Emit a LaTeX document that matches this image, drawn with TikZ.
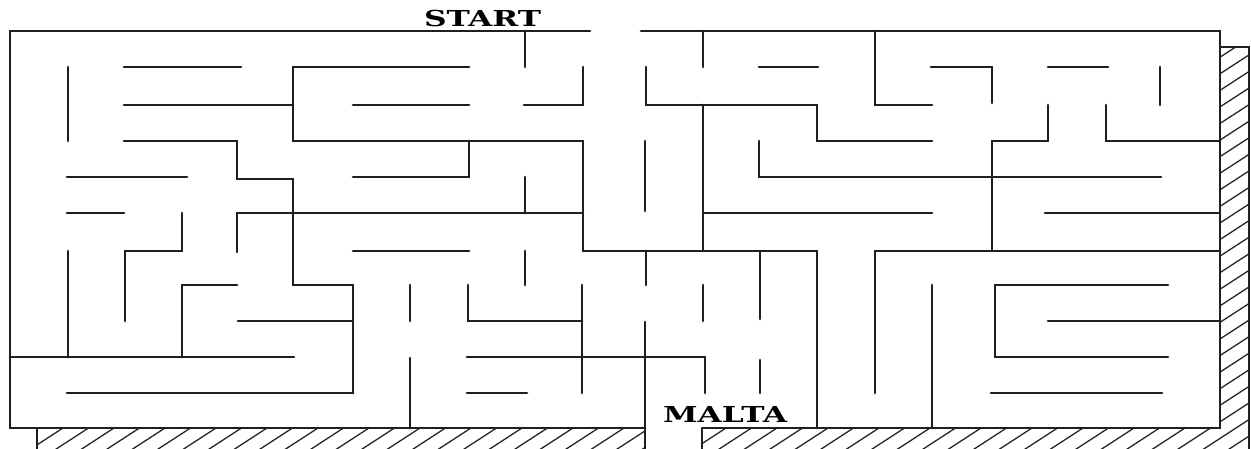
\documentclass[tikz,border=0pt]{standalone}
\usepackage{fontspec}
\usepackage{graphicx}
\newfontfamily\mazefont{DejaVu Serif}
\tikzset{
  wall/.style={line width=1.45pt, line cap=round, line join=miter, black!88},
  hatchline/.style={line width=0.65pt, black!85},
  frameline/.style={line width=1.2pt, black!88},
  mazelabel/.style={font=\mazefont\bfseries\fontsize{11pt}{11pt}\selectfont, inner sep=0pt}
}
\begin{document}
\begin{tikzpicture}[x=0.5pt,y=-0.5pt]
\useasboundingbox (0,0) rectangle (1251,449);
% hatching
\begin{scope}
\clip (37,428) rectangle (645,449) (702,428) rectangle (1249,449) (1220,47) rectangle (1249,449);
\foreach \k in {-4,...,52} {
  \pgfmathsetmacro{\xo}{63+25.5*\k}
  \draw[hatchline] (\xo-40,454) -- (\xo+700,-27);
}
\end{scope}
\draw[frameline] (37,428) -- (37,449);
\draw[frameline] (1220,47) -- (1249,47) -- (1249,449);
\draw[frameline] (702,428) -- (702,449);
% outer border
\draw[wall] (590,31) -- (10,31) -- (10,428) -- (645,428);
\draw[wall] (641,31) -- (1220,31) -- (1220,428) -- (702,428);
% interior walls
\draw[wall] (124,67) -- (241,67);
\draw[wall] (469,67) -- (293,67) -- (293,141);
\draw[wall] (525,31) -- (525,67);
\draw[wall] (583,67) -- (583,105) -- (524,105);
\draw[wall] (703,31) -- (703,67);
\draw[wall] (759,67) -- (818,67);
\draw[wall] (875,31) -- (875,105) -- (932,105);
\draw[wall] (931,67) -- (992,67) -- (992,103);
\draw[wall] (1048,67) -- (1108,67);
\draw[wall] (1160,67) -- (1160,105);
\draw[wall] (68,67) -- (68,141);
\draw[wall] (124,105) -- (293,105);
\draw[wall] (353,105) -- (469,105);
\draw[wall] (646,67) -- (646,105) -- (817,105) -- (817,141) -- (932,141);
\draw[wall] (703,105) -- (703,251);
\draw[wall] (1048,105) -- (1048,141) -- (992,141) -- (992,251);
\draw[wall] (1106,105) -- (1106,141) -- (1220,141);
\draw[wall] (293,141) -- (583,141) -- (583,251);
\draw[wall] (469,141) -- (469,177) -- (353,177);
\draw[wall] (124,141) -- (237,141) -- (237,179) -- (293,179) -- (293,285) -- (353,285) -- (353,393);
\draw[wall] (67,177) -- (187,177);
\draw[wall] (645,141) -- (645,211);
\draw[wall] (759,141) -- (759,177) -- (1161,177);
\draw[wall] (525,177) -- (525,213);
\draw[wall] (67,213) -- (124,213);
\draw[wall] (182,213) -- (182,251) -- (125,251) -- (125,321);
\draw[wall] (237,252) -- (237,213) -- (583,213);
\draw[wall] (703,213) -- (932,213);
\draw[wall] (1045,213) -- (1220,213);
\draw[wall] (583,251) -- (817,251) -- (817,428);
\draw[wall] (353,251) -- (469,251);
\draw[wall] (525,251) -- (525,285);
\draw[wall] (646,251) -- (646,285);
\draw[wall] (760,251) -- (760,319);
\draw[wall] (1220,251) -- (875,251) -- (875,393);
\draw[wall] (68,251) -- (68,357);
\draw[wall] (237,285) -- (182,285) -- (182,357);
\draw[wall] (410,285) -- (410,321);
\draw[wall] (468,285) -- (468,321) -- (582,321);
\draw[wall] (582,285) -- (582,393);
\draw[wall] (703,285) -- (703,321);
\draw[wall] (932,285) -- (932,428);
\draw[wall] (1168,285) -- (995,285) -- (995,357) -- (1168,357);
\draw[wall] (238,321) -- (353,321);
\draw[wall] (1048,321) -- (1220,321);
\draw[wall] (10,357) -- (294,357);
\draw[wall] (410,358) -- (410,428);
\draw[wall] (467,357) -- (705,357) -- (705,393);
\draw[wall] (760,360) -- (760,393);
\draw[wall] (67,393) -- (353,393);
\draw[wall] (467,393) -- (527,393);
\draw[wall] (991,393) -- (1162,393);
\draw[wall] (645,322) -- (645,449);
% labels
\node[mazelabel] (start) at (482.5,18) {\scalebox{1.42}[1]{START}};
\node[mazelabel] (malta) at (725,414.5) {\scalebox{1.42}[1]{MALTA}};
\end{tikzpicture}
\end{document}
